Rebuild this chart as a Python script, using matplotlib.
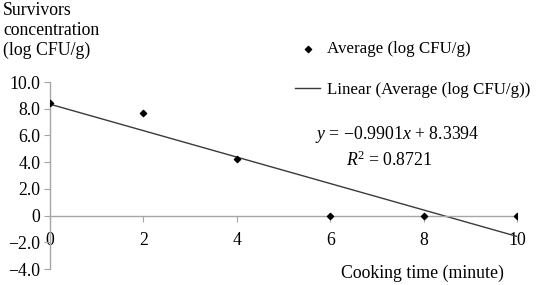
import numpy as np
import matplotlib
matplotlib.use("Agg")
import matplotlib.pyplot as plt

# Data
cook_time = [0, 2, 4, 6, 8, 10]
avg_log_cfu = [8.40, 7.68, 4.25, 0.0, 0.0, 0.0]
xticks = [0, 2, 4, 6, 8, 10]
yticks = [-4, -2, 0, 2, 4, 6, 8, 10]
ytick_labels = ["\u22124.0", "\u22122.0", "0", "2.0", "4.0", "6.0", "8.0", "10.0"]
eq_text = "$y$ = \u22120.9901$x$ + 8.3394"
r2_text = "$R$$^2$ = 0.8721"

plt.rcParams['font.family'] = ['Liberation Serif', 'DejaVu Serif']
plt.rcParams['mathtext.fontset'] = 'custom'
plt.rcParams['mathtext.it'] = 'Liberation Serif:italic'
plt.rcParams['mathtext.rm'] = 'Liberation Serif'
FS = 12.8
W, H = 538, 285
fig = plt.figure(figsize=(W/100, H/100), dpi=100)
ax = fig.add_axes([50/W, 16/H, (517-50)/W, (269-82)/H])

grey = '#a6a6a6'
ax.scatter(cook_time, avg_log_cfu, marker='D', s=10, color='black', zorder=3,
           label='Average (log CFU/g)')
coef = np.polyfit(cook_time, avg_log_cfu, 1)
xs = np.array([cook_time[0], cook_time[-1]])
ax.plot(xs, np.polyval(coef, xs), color='#3a3a3a', lw=1.0, zorder=2,
        label='Linear (Average (log CFU/g))')

ax.set_xlim(0, 10)
ax.set_ylim(-4, 10)
ax.spines['top'].set_visible(False)
ax.spines['right'].set_visible(False)
ax.spines['bottom'].set_position(('data', 0))
for s in ['left', 'bottom']:
    ax.spines[s].set_color(grey)
    ax.spines[s].set_linewidth(1.0)
ax.set_xticks(xticks)
ax.set_xticklabels([str(t) for t in xticks])
ax.set_yticks(yticks)
ax.set_yticklabels(ytick_labels)
ax.tick_params(axis='y', direction='out', length=4, color=grey, labelsize=FS, pad=3)
ax.tick_params(axis='x', direction='out', length=4, color=grey, labelsize=FS, pad=8)
ax.patch.set_visible(False)

fig.text(3/W, 1-2/H, "Survivors\nconcentration\n(log CFU/g)", ha='left', va='top',
         fontsize=FS, linespacing=1.2)
fig.text(422/W, 1-273/H, "Cooking time (minute)", ha='center', va='center', fontsize=FS)
fig.text(397/W, 1-135/H, eq_text, ha='center', va='center', fontsize=FS)
fig.text(389/W, 1-160/H, r2_text, ha='center', va='center', fontsize=FS)

leg = ax.legend(loc='upper left', bbox_to_anchor=(295/W, 1-41/H), bbox_transform=fig.transFigure,
                frameon=False, prop={'size': 12.2}, borderpad=0, borderaxespad=0,
                handlelength=1.5, handletextpad=0.4, labelspacing=1.45, markerscale=1.0)

fig.savefig("out.png", dpi=100)
